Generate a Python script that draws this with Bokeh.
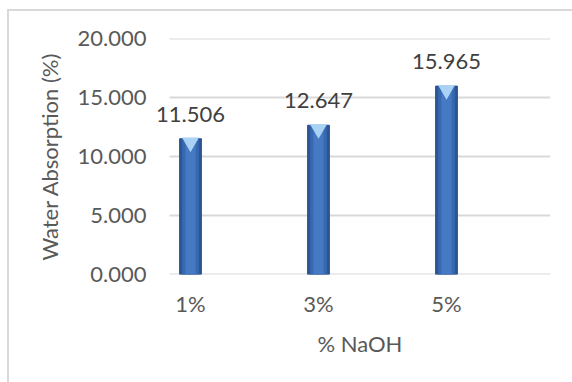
from bokeh.plotting import figure
from bokeh.models import ColumnDataSource, FixedTicker, Range1d, PrintfTickFormatter, Title
from bokeh.core.properties import value
from bokeh.transform import dodge
from bokeh.embed import file_html
from bokeh.resources import INLINE

categories = ["1%", "3%", "5%"]
positions = [1, 2, 3]
absorption = [11.506, 12.647, 15.965]
y_ticks = [0, 5, 10, 15, 20]
x_title = "% NaOH"
y_title = "Water Absorption (%)"

FONT = "Lato"
GRAY = "#595959"
X_LEFT, X_RIGHT = 0.836, 3.8125   # visible plot-area edges (category units)
X_START = 0.6016                 # extra room on the left so value labels are not clipped

src = ColumnDataSource(dict(
    x=positions,
    top=absorption,
    label=["%.3f" % v for v in absorption],
))
grid_src = ColumnDataSource(dict(y=y_ticks, x0=[X_LEFT] * len(y_ticks), x1=[X_RIGHT] * len(y_ticks)))

p = figure(width=565, height=373, output_backend="svg", toolbar_location=None,
           x_range=Range1d(X_START, X_RIGHT), y_range=Range1d(0, 20),
           min_border_left=130, min_border_right=24, min_border_top=27, min_border_bottom=110,
           margin=(9, 0, 0, 7),
           styles={"border-left": "2px solid #D9D9D9", "border-top": "2px solid #D9D9D9"})
p.outline_line_color = None
p.background_fill_color = "white"
p.border_fill_color = "white"

# horizontal gridlines (incl. category axis line at 0)
p.segment(x0="x0", x1="x1", y0="y", y1="y", source=grid_src, line_color="#D9D9D9", line_width=2)

# bars: dark edge, graduated lighter core, light bevel at top
p.vbar(x="x", top="top", bottom=0, width=0.17, source=src,
       fill_color="#2C5696", line_color="#28508C", line_width=1)
p.vbar(x="x", top="top", bottom=0, width=0.13, source=src,
       fill_color="#3868B0", line_color=None)
p.vbar(x="x", top="top", bottom=0, width=0.08, source=src,
       fill_color="#4679C4", line_color=None)
p.scatter(x="x", y=dodge("top", -0.32), source=src, marker="inverted_triangle", size=17,
          fill_color="#A9D2F5", line_color=None)

p.text(x="x", y="top", text="label", source=src, text_align="center",
       text_baseline="bottom", y_offset=-17, text_font=value(FONT),
       text_font_size="22px", text_color="#404040")

# axes
p.yaxis.ticker = FixedTicker(ticks=y_ticks)
p.yaxis.formatter = PrintfTickFormatter(format="%.3f")
p.yaxis.axis_line_color = None
p.yaxis.major_tick_line_color = None
p.yaxis.minor_tick_line_color = None
p.yaxis.major_tick_out = 0
p.yaxis.major_tick_in = 0
p.yaxis.major_label_standoff = -7
p.yaxis.axis_label = y_title
p.yaxis.axis_label_standoff = 12

p.xaxis.ticker = FixedTicker(ticks=positions)
p.xaxis.major_label_overrides = {pos: c for pos, c in zip(positions, categories)}
p.xaxis.axis_line_color = None
p.xaxis.major_tick_line_color = None
p.xaxis.minor_tick_line_color = None
p.xaxis.major_label_standoff = 9

for ax in (p.xaxis, p.yaxis):
    ax.major_label_text_font = FONT
    ax.major_label_text_font_size = "22px"
    ax.major_label_text_color = GRAY
    ax.axis_label_text_font = FONT
    ax.axis_label_text_font_size = "22px"
    ax.axis_label_text_font_style = "normal"
    ax.axis_label_text_color = GRAY

# x-axis title, centred under the visible plot area
p.add_layout(Title(text=x_title, align="left", offset=178, standoff=16,
                   text_font=FONT, text_font_size="22px", text_font_style="normal",
                   text_color=GRAY), "below")

p.xgrid.grid_line_color = None
p.ygrid.grid_line_color = None

open("out.html", "w").write(file_html(p, INLINE))
